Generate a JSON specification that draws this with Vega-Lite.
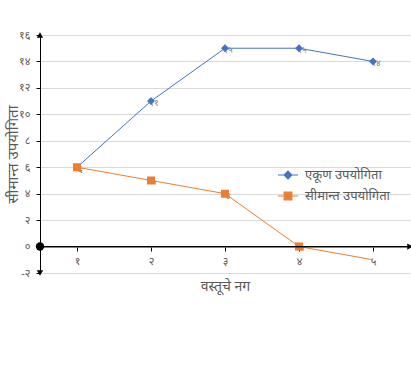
{
  "$schema": "https://vega.github.io/schema/vega-lite/v6.json",
  "width": 370,
  "height": 238,
  "autosize": "none",
  "padding": {"left": 40, "top": 35, "right": 1, "bottom": 92},
  "background": "white",
  "config": {"view": {"stroke": null}, "font": "Noto Sans"},
  "datasets": {
    "pts": [
      {"x": 1, "y": 6, "label": "६", "series": "एकूण उपयोगिता"},
      {"x": 2, "y": 11, "label": "११", "series": "एकूण उपयोगिता"},
      {"x": 3, "y": 15, "label": "१५", "series": "एकूण उपयोगिता"},
      {"x": 4, "y": 15, "label": "१५", "series": "एकूण उपयोगिता"},
      {"x": 5, "y": 14, "label": "१४", "series": "एकूण उपयोगिता"},
      {"x": 1, "y": 6, "label": "६", "series": "सीमान्त उपयोगिता"},
      {"x": 2, "y": 5, "label": "५", "series": "सीमान्त उपयोगिता"},
      {"x": 3, "y": 4, "label": "४", "series": "सीमान्त उपयोगिता"},
      {"x": 4, "y": 0, "label": "०", "series": "सीमान्त उपयोगिता"},
      {"x": 5, "y": -1, "label": "", "series": "सीमान्त उपयोगिता"}
    ],
    "arrows": [
      {"x": 0.5, "y": 16, "shape": "triangle-up"},
      {"x": 0.5, "y": -2, "shape": "triangle-down"},
      {"x": 5.5, "y": 0, "shape": "triangle-right"}
    ],
    "origin": [{"x": 0.5, "y": 0}]
  },
  "encoding": {
    "x": {
      "field": "x", "type": "quantitative",
      "scale": {"domain": [0.5, 5.5], "nice": false, "zero": false},
      "axis": {
        "values": [1, 2, 3, 4, 5],
        "offset": -26,
        "domain": false,
        "grid": false,
        "tickColor": "#000000",
        "tickSize": 4,
        "labelFontSize": 11,
        "labelColor": "#595959",
        "labelPadding": 4,
        "labelOverlap": false,
        "labelExpr": "replace(replace(replace(replace(replace(toString(datum.value),'1','१'),'2','२'),'3','३'),'4','४'),'5','५')",
        "title": "वस्तूचे नग",
        "titleFontSize": 14,
        "titleFontWeight": "normal",
        "titleColor": "#595959",
        "titlePadding": 13
      }
    },
    "y": {
      "field": "y", "type": "quantitative",
      "scale": {"domain": [-2, 16], "nice": false, "zero": false},
      "axis": {
        "values": [-2, 0, 2, 4, 6, 8, 10, 12, 14, 16],
        "domainColor": "#000000",
        "domainWidth": 1,
        "tickColor": "#000000",
        "tickSize": 4,
        "grid": true,
        "gridColor": "#d9d9d9",
        "labelFontSize": 11,
        "labelColor": "#595959",
        "labelPadding": 6,
        "labelOverlap": false,
        "labelExpr": "replace(replace(replace(replace(replace(replace(replace(replace(replace(replace(toString(datum.value),'0','०'),'1','१'),'2','२'),'3','३'),'4','४'),'5','५'),'6','६'),'7','७'),'8','८'),'9','९')",
        "title": "सीमान्त उपयोगिता",
        "titleFontSize": 15,
        "titleFontWeight": "normal",
        "titleColor": "#595959",
        "titleX": -20
      }
    }
  },
  "layer": [
    {
      "data": {"name": "pts"},
      "mark": {"type": "line", "strokeWidth": 1},
      "encoding": {
        "color": {
          "field": "series", "type": "nominal",
          "scale": {"domain": ["एकूण उपयोगिता", "सीमान्त उपयोगिता"], "range": ["#4472C4", "#ED7D31"]},
          "legend": {
            "title": null,
            "orient": "none",
            "legendX": 237,
            "legendY": 129,
            "labelFontSize": 13,
            "labelColor": "#595959",
            "symbolSize": 400,
            "rowPadding": 3,
            "labelOffset": 6
          }
        }
      }
    },
    {
      "data": {"name": "pts"},
      "transform": [{"filter": "datum.label != ''"}],
      "mark": {"type": "text", "fontSize": 9, "color": "#7f7f7f", "dx": 3, "dy": 2},
      "encoding": {
        "text": {"field": "label", "type": "nominal"}
      }
    },
    {
      "data": {"name": "pts"},
      "transform": [{"filter": "datum.label != ''"}],
      "mark": {"type": "point", "filled": true, "opacity": 1, "strokeWidth": 0, "size": 440},
      "encoding": {
        "color": {
          "field": "series", "type": "nominal",
          "legend": {
            "title": null,
            "orient": "none",
            "legendX": 237,
            "legendY": 129,
            "labelFontSize": 13,
            "labelColor": "#595959",
            "symbolSize": 400,
            "rowPadding": 3,
            "labelOffset": 6
          }
        },
        "shape": {
          "field": "series", "type": "nominal",
          "scale": {
            "domain": ["एकूण उपयोगिता", "सीमान्त उपयोगिता"],
            "range": ["M-1,0L1,0M0,-0.38L0.38,0L0,0.38L-0.38,0Z", "M-1,0L1,0M-0.38,-0.38L0.38,-0.38L0.38,0.38L-0.38,0.38Z"]
          },
          "legend": {
            "title": null,
            "orient": "none",
            "legendX": 237,
            "legendY": 129,
            "labelFontSize": 13,
            "labelColor": "#595959",
            "symbolSize": 400,
            "rowPadding": 3,
            "labelOffset": 6,
            "symbolStrokeWidth": 1.2,
            "encode": {
              "symbols": {
                "update": {
                  "stroke": {"scale": "color", "field": "value"}
                }
              }
            }
          }
        }
      }
    },
    {
      "data": {"name": "pts"},
      "mark": {"type": "rule", "color": "#000000", "strokeWidth": 1},
      "encoding": {"y": {"datum": 0}, "x": null}
    },
    {
      "data": {"name": "arrows"},
      "mark": {"type": "point", "filled": true, "color": "#000000", "opacity": 1, "size": 40},
      "encoding": {
        "shape": {"field": "shape", "type": "nominal", "scale": null}
      }
    },
    {
      "data": {"name": "origin"},
      "mark": {"type": "point", "filled": true, "color": "#000000", "opacity": 1, "size": 70},
      "encoding": {}
    }
  ]
}
